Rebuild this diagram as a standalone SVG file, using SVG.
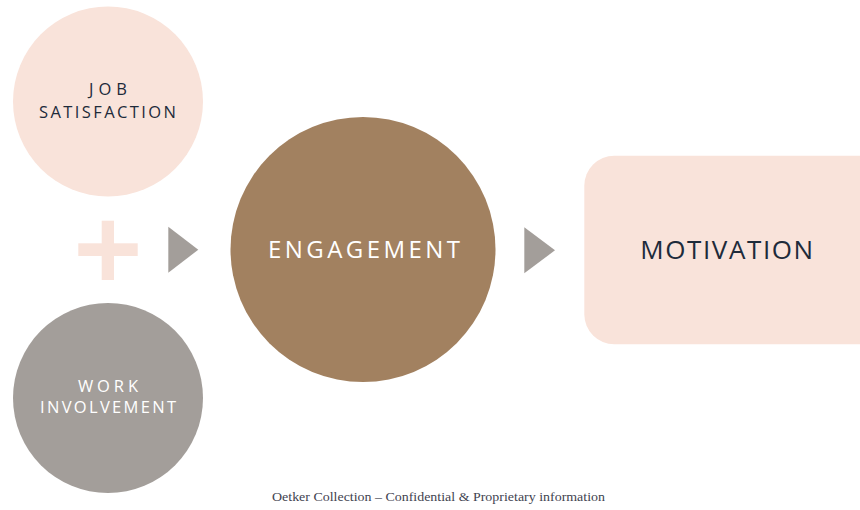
<svg xmlns="http://www.w3.org/2000/svg" width="860" height="510" viewBox="0 0 860 510">
  <style>
    .pink { fill: #F9E3DA; }
    .gray { fill: #A39E9A; }
    .brown { fill: #A28160; }
    .lbl { font-family: "Open Sans", "Noto Sans", "Liberation Sans", sans-serif; text-anchor: middle; }
    .sm { font-size: 16.5px; }
    .dark { fill: #1E2B3A; }
    .light { fill: #FFFFFF; }
    .foot { font-family: "Liberation Serif", "DejaVu Serif", serif; font-size: 13px; fill: #3F4350; text-anchor: middle; }
  </style>
  <rect width="860" height="510" fill="#FFFFFF"/>
  <g id="job-satisfaction">
    <circle class="pink" cx="108" cy="101.5" r="95"/>
    <text class="lbl sm dark" x="108" y="94.5" textLength="38" lengthAdjust="spacing">JOB</text>
    <text class="lbl sm dark" x="107.5" y="117.7" textLength="137" lengthAdjust="spacing">SATISFACTION</text>
  </g>
  <g id="plus">
    <rect class="pink" x="101.7" y="220.7" width="12.3" height="59.3"/>
    <rect class="pink" x="78.3" y="243.3" width="59.4" height="12.7"/>
  </g>
  <g id="work-involvement">
    <circle class="gray" cx="108" cy="398" r="95"/>
    <text class="lbl sm light" x="108" y="391.7" textLength="60" lengthAdjust="spacing">WORK</text>
    <text class="lbl sm light" x="108" y="413.3" textLength="136" lengthAdjust="spacing">INVOLVEMENT</text>
  </g>
  <g id="engagement">
    <circle class="brown" cx="363" cy="249.5" r="132.5"/>
    <text class="lbl light" x="364" y="258.3" font-size="24" textLength="192" lengthAdjust="spacing">ENGAGEMENT</text>
  </g>
  <g id="motivation">
    <rect class="pink" x="584.3" y="155.7" width="306" height="188.5" rx="30" ry="30"/>
    <text class="lbl dark" x="726.7" y="259" font-size="26" textLength="173" lengthAdjust="spacing">MOTIVATION</text>
  </g>
  <g id="connectors">
    <polygon class="gray" points="168.3,226.7 198.3,249.7 168.3,272.7"/>
    <polygon class="gray" points="524.3,227.3 555,250.3 524.3,273.3"/>
  </g>
  <text class="foot" x="438.5" y="501" textLength="333" lengthAdjust="spacingAndGlyphs">Oetker Collection – Confidential &amp; Proprietary information</text>
</svg>
